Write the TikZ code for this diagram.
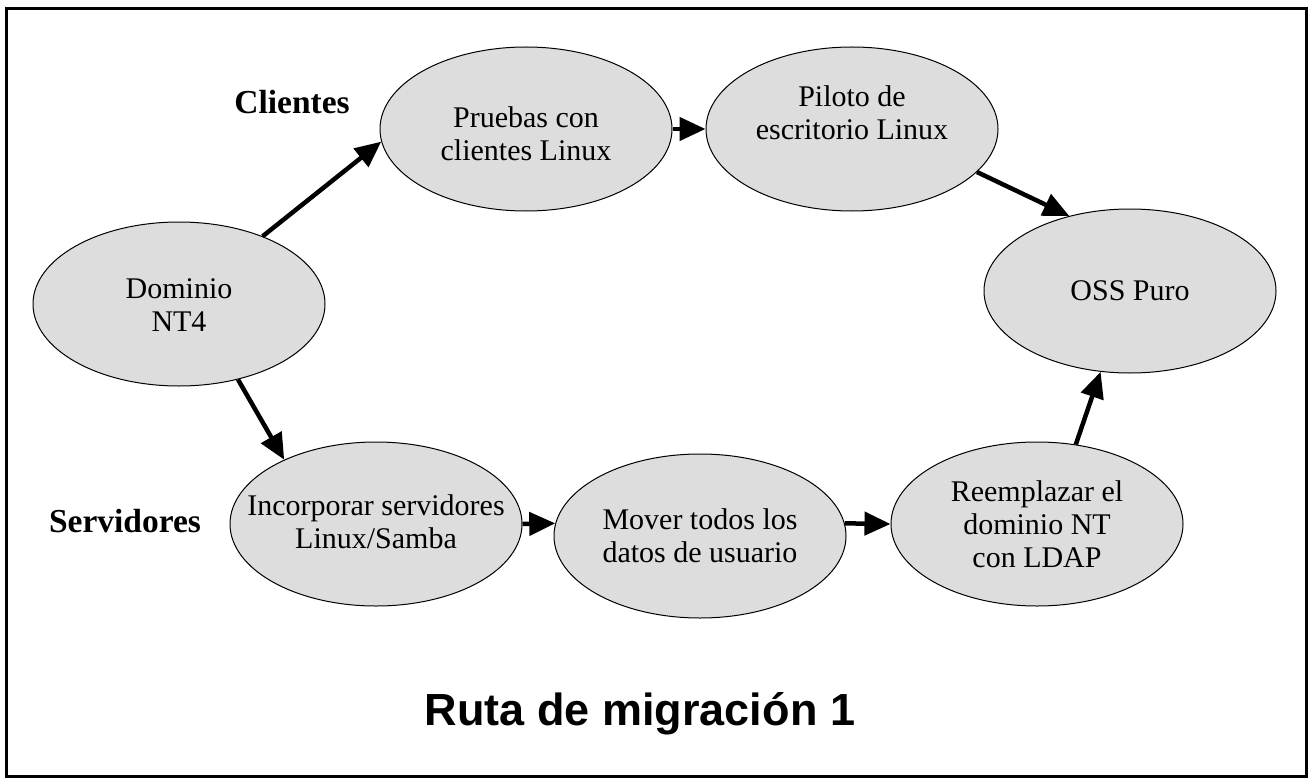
\documentclass[tikz,border=0pt]{standalone}
\usepackage{fontspec}
\setmainfont{Liberation Serif}
\newfontfamily\nodefont{Liberation Serif}
\newfontfamily\titlefont{Liberation Sans}
\usetikzlibrary{shapes.geometric,arrows.meta}
\definecolor{bubblegray}{RGB}{221,221,221}
\tikzset{
  bubble/.style={ellipse, draw=black, line width=1pt, fill=bubblegray,
    minimum width=292pt, minimum height=164pt, inner sep=0pt},
  ntext/.style={align=center, inner sep=0pt, font=\nodefont\fontsize{30}{33}\selectfont},
  grouplabel/.style={anchor=base, inner sep=0pt, font=\bfseries\fontsize{33.5}{36}\selectfont},
  arr/.style={line width=4.5pt, -{Triangle[length=26pt,width=23pt]}},
}
\begin{document}
\begin{tikzpicture}[x=1pt,y=-1pt]
\useasboundingbox (0,0) rectangle (1313,778);
\draw[line width=3pt] (6.5,8.5) rectangle (1306.5,776);
% ellipses
\node[bubble] (dom) at (179,304) {};
\node[bubble] (pru) at (526,129) {};
\node[bubble] (pil) at (852,129) {};
\node[bubble] (oss) at (1130,291) {};
\node[bubble] (inc) at (376,524) {};
\node[bubble] (mov) at (700,536) {};
\node[bubble] (ree) at (1037,524) {};
% texts
\node[ntext] (tdom) at (179,305) {Dominio\\NT4};
\node[ntext] (tpru) at (526,134) {Pruebas con\\clientes Linux};
\node[ntext] (tpil) at (852,113) {Piloto de\\escritorio Linux};
\node[ntext] (toss) at (1130,291) {OSS Puro};
\node[ntext] (tinc) at (376,522) {Incorporar servidores\\Linux/Samba};
\node[ntext] (tmov) at (700,536) {Mover todos los\\datos de usuario};
\node[ntext] (tree) at (1037,524) {Reemplazar el\\dominio NT\\con LDAP};
% group labels
\node[grouplabel] (cli) at (292,114) {Clientes};
\node[grouplabel] (srv) at (125,532) {Servidores};
% title
\node[anchor=base, inner sep=0pt, font=\titlefont\bfseries\fontsize{45}{50}\selectfont] (title) at (640,725) {Ruta de migración 1};
% arrows
\draw[arr] (dom.39.5) -- (pru.185);
\draw[arr] (pru.east) -- (pil.west);
\draw[arr] (pil.-19.7) -- (oss.129);
\draw[arr] (dom.-52.4) -- (inc.145.3);
\draw[arr] (inc.east) -- (mov.175);
\draw[arr] (mov.5) -- (ree.west);
\draw[arr] (ree.64.3) -- (oss.250);
\end{tikzpicture}
\end{document}
